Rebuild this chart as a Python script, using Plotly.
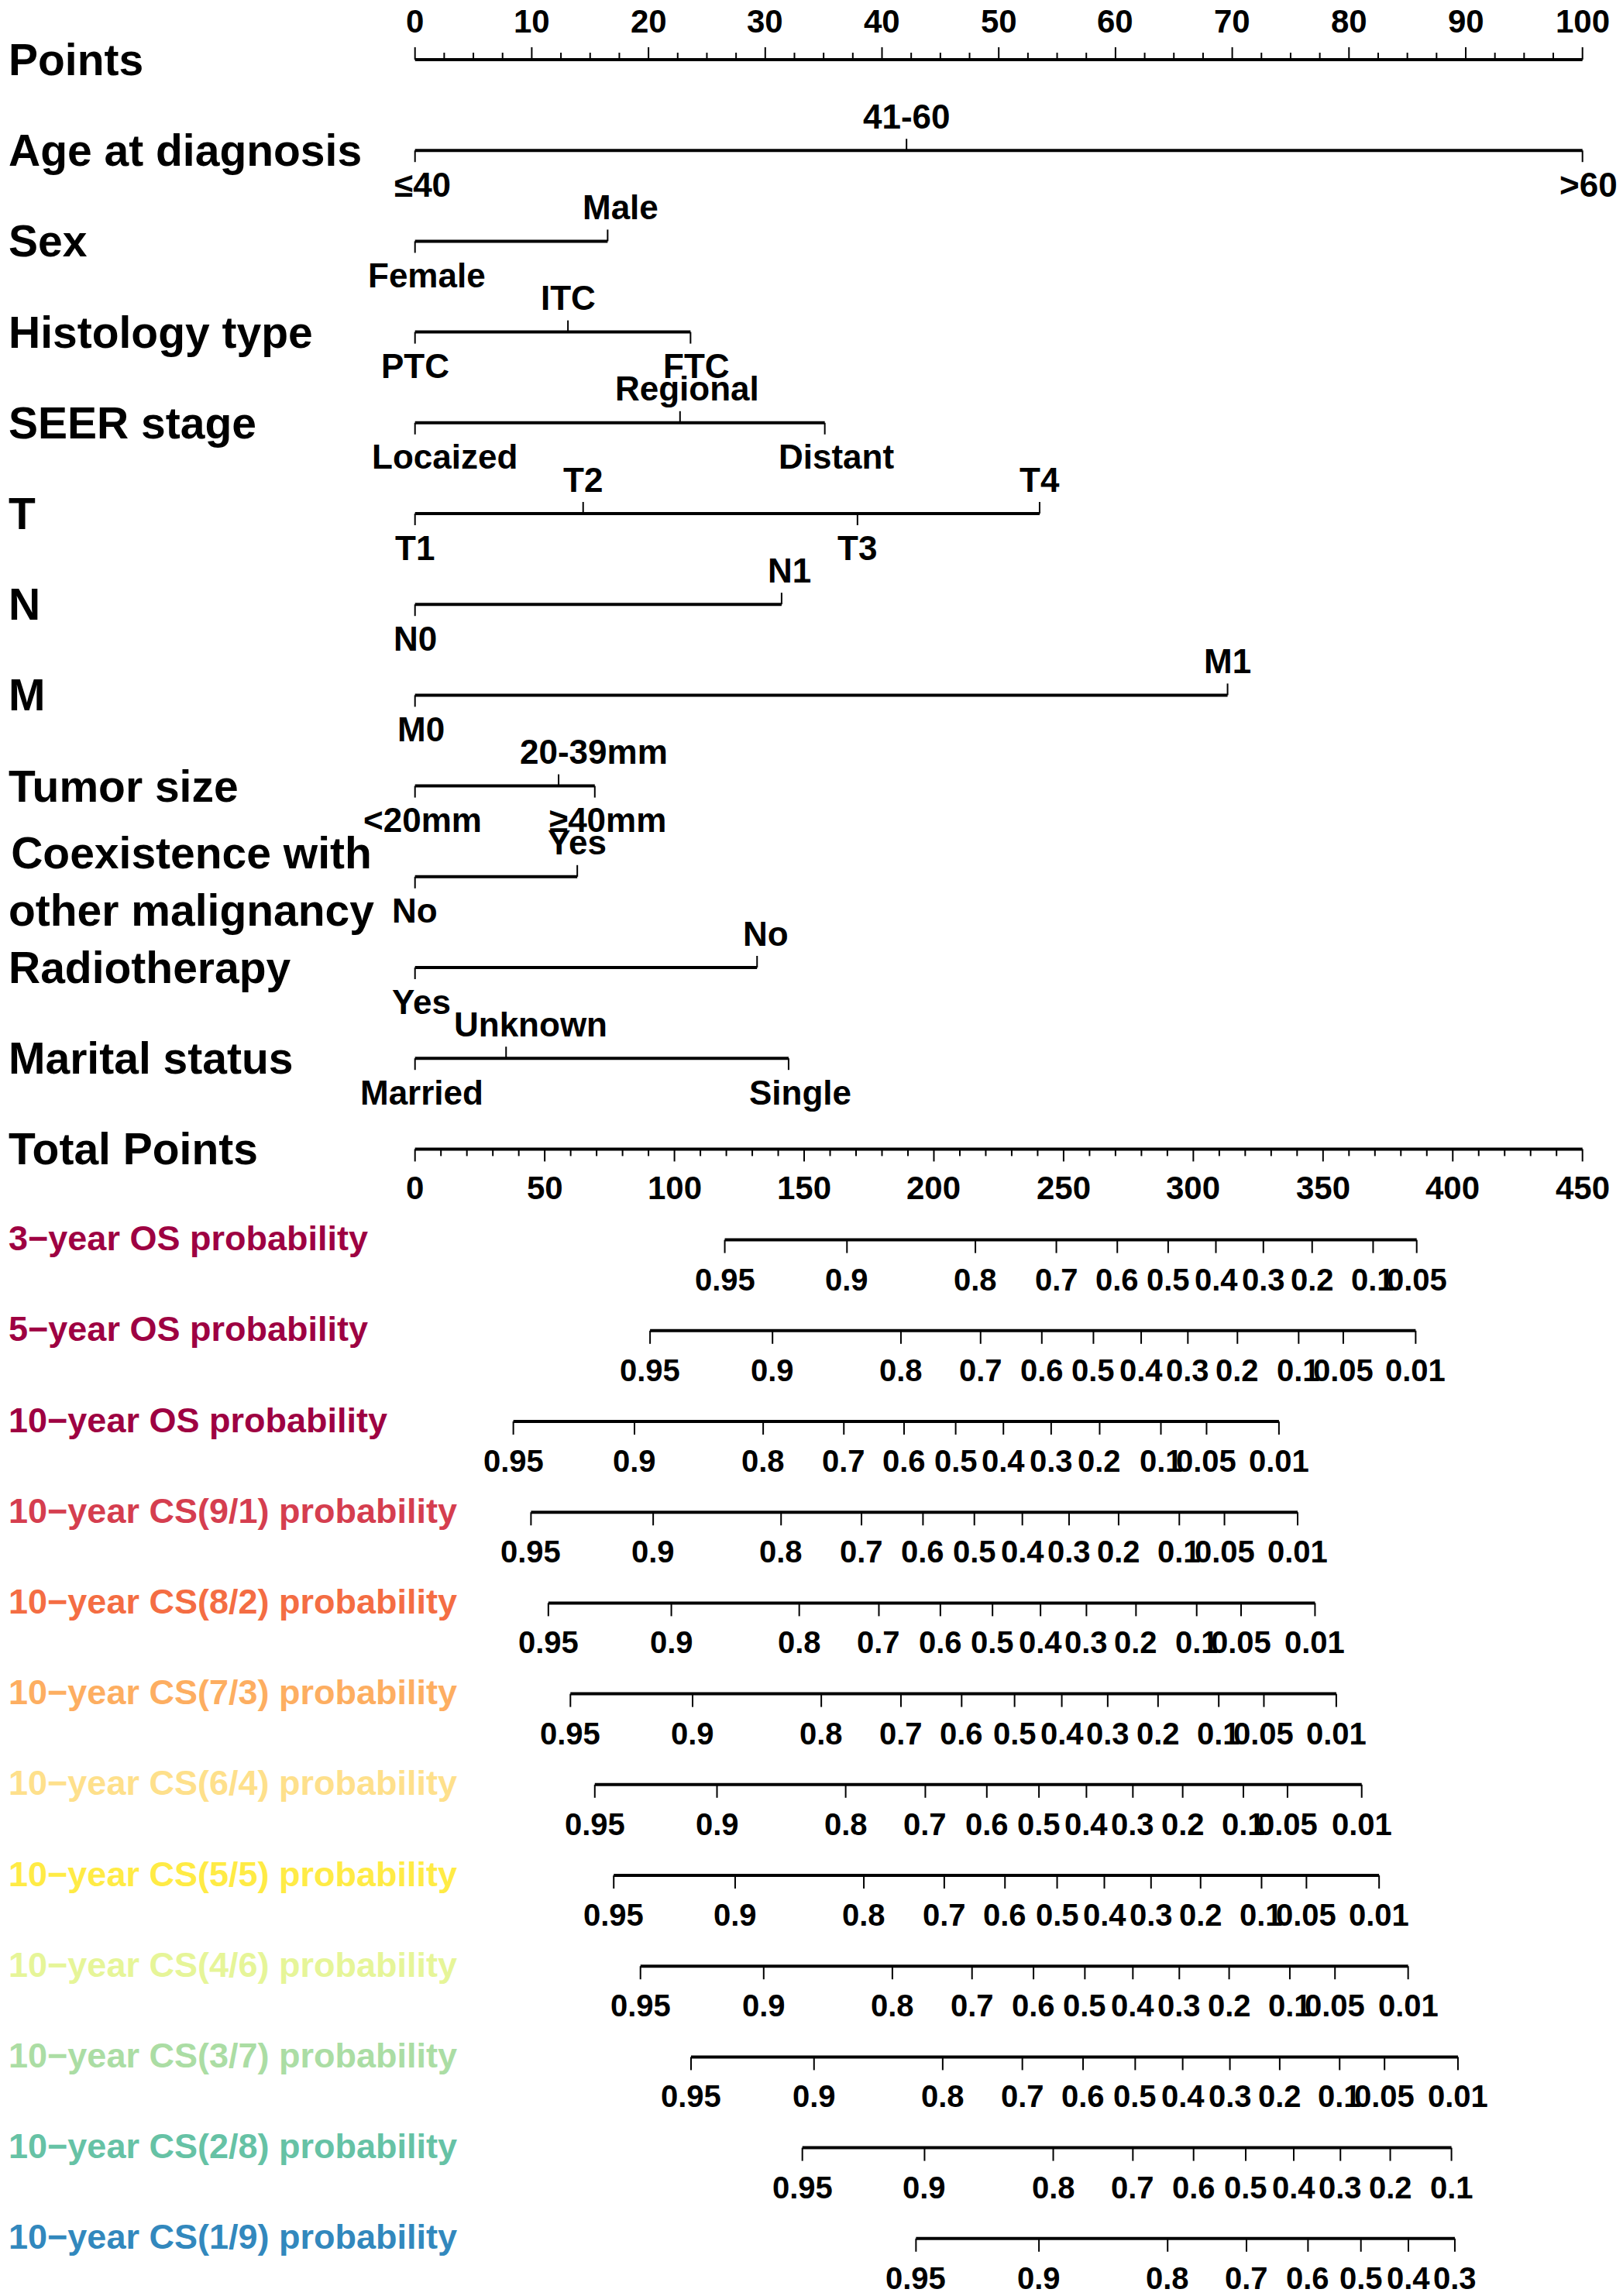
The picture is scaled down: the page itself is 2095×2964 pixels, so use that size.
import plotly.graph_objects as go

# nomogram values
points_ticks = list(range(0, 101, 10))
total_ticks = list(range(0, 451, 50))

age_levels = ["≤40", "41-60", ">60"]
age_points = [0, 42.1, 100]
sex_levels = ["Female", "Male"]
sex_points = [0, 16.5]
hist_levels = ["PTC", "ITC", "FTC"]
hist_points = [0, 13.1, 23.6]
seer_levels = ["Locaized", "Regional", "Distant"]
seer_points = [0, 22.7, 35.1]
t_levels = ["T1", "T2", "T3", "T4"]
t_points = [0, 14.4, 37.9, 53.5]
n_levels = ["N0", "N1"]
n_points = [0, 31.4]
m_levels = ["M0", "M1"]
m_points = [0, 69.6]
size_levels = ["<20mm", "20-39mm", "≥40mm"]
size_points = [0, 12.3, 15.4]
coex_levels = ["No", "Yes"]
coex_points = [0, 13.9]
radio_levels = ["Yes", "No"]
radio_points = [0, 29.3]
marital_levels = ["Married", "Unknown", "Single"]
marital_points = [0, 7.8, 32.0]

prob_12 = [0.95, 0.9, 0.8, 0.7, 0.6, 0.5, 0.4, 0.3, 0.2, 0.1, 0.05, 0.01]
os3_probs = prob_12[:11]
os3_total = [119.4, 166.5, 216.0, 247.2, 270.7, 290.3, 308.7, 327.0, 345.8, 369.3, 386.1]
os5_probs = prob_12
os5_total = [90.6, 137.8, 187.3, 218.0, 241.6, 261.5, 279.9, 297.9, 317.0, 340.6, 357.8, 385.7]
os10_probs = prob_12
os10_total = [37.9, 84.6, 134.2, 165.3, 188.5, 208.4, 226.8, 245.2, 263.9, 287.5, 305.1, 333.0]
cs91_probs = prob_12
cs91_total = [44.7, 91.8, 141.1, 172.1, 195.8, 215.6, 234.1, 252.1, 271.2, 294.6, 312.0, 340.2]
cs82_probs = prob_12
cs82_total = [51.4, 98.8, 148.1, 178.8, 202.5, 222.6, 241.1, 258.8, 277.9, 301.3, 318.4, 346.9]
cs73_probs = prob_12
cs73_total = [59.9, 107.0, 156.6, 187.3, 210.7, 231.1, 249.3, 267.0, 286.4, 309.8, 327.2, 355.1]
cs64_probs = prob_12
cs64_total = [69.3, 116.4, 166.0, 196.7, 220.4, 240.5, 258.8, 276.7, 295.9, 319.3, 336.3, 364.9]
cs55_probs = prob_12
cs55_total = [76.6, 123.4, 173.0, 204.0, 227.4, 247.5, 265.7, 283.7, 302.8, 326.3, 343.6, 371.6]
cs46_probs = prob_12
cs46_total = [86.9, 134.4, 184.0, 214.7, 238.4, 258.2, 276.7, 294.6, 313.8, 337.2, 354.6, 382.8]
cs37_probs = prob_12
cs37_total = [106.4, 153.8, 203.4, 234.1, 257.5, 277.6, 295.9, 314.1, 333.3, 356.4, 373.7, 402.0]
cs28_probs = prob_12[:10]
cs28_total = [149.3, 196.4, 246.0, 276.7, 300.1, 320.2, 338.7, 356.7, 375.9, 399.5]
cs19_probs = prob_12[:8]
cs19_total = [193.1, 240.5, 290.1, 320.5, 344.2, 364.6, 382.9, 400.8]

variables = [
    ("Age at diagnosis", age_levels, age_points),
    ("Sex", sex_levels, sex_points),
    ("Histology type", hist_levels, hist_points),
    ("SEER stage", seer_levels, seer_points),
    ("T", t_levels, t_points),
    ("N", n_levels, n_points),
    ("M", m_levels, m_points),
    ("Tumor size", size_levels, size_points),
    ("Coexistence with<br>other malignancy", coex_levels, coex_points),
    ("Radiotherapy", radio_levels, radio_points),
    ("Marital status", marital_levels, marital_points),
]

prob_rows = [
    ("3\u2212year OS probability", "#9E0142", os3_probs, os3_total),
    ("5\u2212year OS probability", "#9E0142", os5_probs, os5_total),
    ("10\u2212year OS probability", "#9E0142", os10_probs, os10_total),
    ("10\u2212year CS(9/1) probability", "#D53E4F", cs91_probs, cs91_total),
    ("10\u2212year CS(8/2) probability", "#F46D43", cs82_probs, cs82_total),
    ("10\u2212year CS(7/3) probability", "#FDAE61", cs73_probs, cs73_total),
    ("10\u2212year CS(6/4) probability", "#FEE08B", cs64_probs, cs64_total),
    ("10\u2212year CS(5/5) probability", "#FFEB45", cs55_probs, cs55_total),
    ("10\u2212year CS(4/6) probability", "#E6F598", cs46_probs, cs46_total),
    ("10\u2212year CS(3/7) probability", "#ABDDA4", cs37_probs, cs37_total),
    ("10\u2212year CS(2/8) probability", "#66C2A5", cs28_probs, cs28_total),
    ("10\u2212year CS(1/9) probability", "#3288BD", cs19_probs, cs19_total),
]

# page geometry (pixels)
W, H = 2095, 2964
X0_PX, PX_PER_POINT = 535.7, 15.07
ROW0, ROW_STEP = 77, 117.2
x_range = [-X0_PX / PX_PER_POINT, (W - X0_PX) / PX_PER_POINT]
x2_range = [v * 4.5 for v in x_range]

FONT = "Liberation Sans"
LINE_W, TICK_W = 4, 2
NUM_SIZE = 40

# small horizontal shifts (px) of some level labels, as in the original
nudge = {
    ("Sex", "Female"): 15, ("Sex", "Male"): 17,
    ("Age at diagnosis", "≤40"): 10, ("Age at diagnosis", ">60"): 8,
    ("Histology type", "FTC"): 8, ("SEER stage", "Locaized"): 38,
    ("SEER stage", "Regional"): 9, ("SEER stage", "Distant"): 15,
    ("N", "N1"): 10, ("M", "M0"): 8,
    ("Tumor size", "<20mm"): 10, ("Tumor size", "20-39mm"): 45,
    ("Tumor size", "≥40mm"): 17, ("Radiotherapy", "No"): 11,
    ("Radiotherapy", "Yes"): 8, ("Marital status", "Married"): 9,
    ("Marital status", "Unknown"): 32, ("Marital status", "Single"): 15,
}


def row_y(i):
    return ROW0 + ROW_STEP * i


fig = go.Figure()


def segs(xs, ys, xaxis="x", width=TICK_W):
    fig.add_trace(go.Scatter(x=xs, y=ys, mode="lines", xaxis=xaxis, yaxis="y",
                             line=dict(color="black", width=width),
                             hoverinfo="skip", showlegend=False))


def txt(x, y, s, size, xref="x", color="black", xanchor="center", xshift=0):
    fig.add_annotation(x=x, y=y, xref=xref, yref="y", text=s, showarrow=False,
                       xanchor=xanchor, yanchor="middle", xshift=xshift,
                       font=dict(family=FONT, size=size, color=color, weight="bold"))


def row_label(y, s, size=57, color="black"):
    txt(9 / W, y, s, size, xref="paper", color=color, xanchor="left")


# Points scale
y = row_y(0)
row_label(y, "Points")
segs([0, 100], [y, y], width=LINE_W)
xs, ys = [], []
for k in range(0, 41):
    v = k * 2.5
    ln = 16 if k % 4 == 0 else 9
    xs += [v, v, None]
    ys += [y, y - ln, None]
segs(xs, ys)
for v in points_ticks:
    txt(v, y - 50, str(v), 42)

# predictor scales
for i, (name, levels, pts) in enumerate(variables, start=1):
    y = row_y(i)
    row_label(y if "<br>" not in name else y + 6, name)
    segs([min(pts), max(pts)], [y, y], width=LINE_W)
    xs, ys = [], []
    for j, (lev, p) in enumerate(zip(levels, pts)):
        d = 1 if j % 2 == 0 else -1
        xs += [p, p, None]
        ys += [y, y + 15 * d, None]
        txt(p, y + 44 * d, lev, 44, xshift=nudge.get((name, lev), 0))
    segs(xs, ys)

# Total points scale
y = row_y(12)
row_label(y, "Total Points")
segs([0, 450], [y, y], xaxis="x2", width=LINE_W)
xs, ys = [], []
for v in range(0, 451, 10):
    ln = 16 if v % 50 == 0 else 9
    xs += [v, v, None]
    ys += [y, y + ln, None]
segs(xs, ys, xaxis="x2")
for v in total_ticks:
    txt(v, y + 50, str(v), 42, xref="x2")

# probability scales
for i, (name, color, probs, totals) in enumerate(prob_rows, start=13):
    y = row_y(i)
    row_label(y - 2, name, size=45, color=color)
    segs([min(totals), max(totals)], [y, y], xaxis="x2", width=LINE_W)
    xs, ys = [], []
    for p, t in zip(probs, totals):
        xs += [t, t, None]
        ys += [y, y + 17, None]
        txt(t, y + 51, str(p), NUM_SIZE, xref="x2")
    segs(xs, ys, xaxis="x2")

fig.update_layout(
    width=W, height=H,
    margin=dict(l=0, r=0, t=0, b=0),
    paper_bgcolor="white", plot_bgcolor="white",
    showlegend=False,
    xaxis=dict(range=x_range, visible=False, fixedrange=True),
    xaxis2=dict(range=x2_range, visible=False, overlaying="x", fixedrange=True),
    yaxis=dict(range=[H, 0], visible=False, fixedrange=True),
)

fig.write_html("out.html", config={"displayModeBar": False},
               post_script="document.body.style.margin='0';")
